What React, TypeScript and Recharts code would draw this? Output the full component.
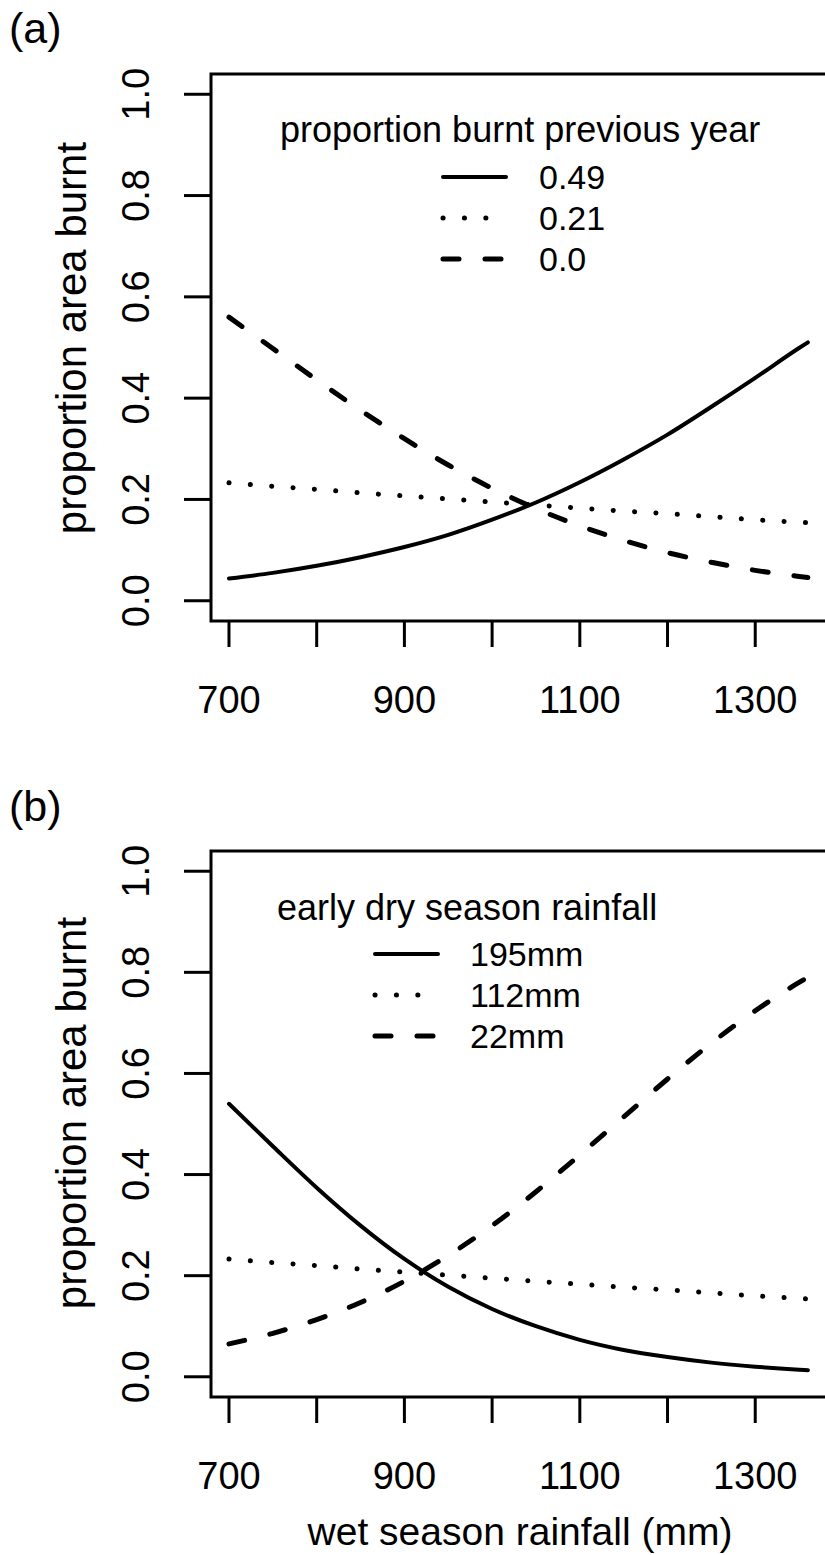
import React from 'react'
import { LineChart, Line, XAxis, YAxis, ReferenceArea, Legend } from 'recharts'

// wet season rainfall (mm) where the curves were read
const rainfall = [700, 750, 800, 850, 900, 950, 1000, 1050, 1100, 1150, 1200, 1250, 1300, 1350, 1360]

// (a) proportion burnt previous year
const prev049 = [0.044, 0.055, 0.069, 0.086, 0.106, 0.13, 0.16, 0.194, 0.234, 0.279, 0.328, 0.383, 0.44, 0.499, 0.51]
const prev021 = [0.233, 0.226, 0.22, 0.213, 0.207, 0.201, 0.195, 0.189, 0.183, 0.177, 0.172, 0.166, 0.16, 0.155, 0.154]
const prev000 = [0.56, 0.498, 0.436, 0.376, 0.32, 0.268, 0.222, 0.182, 0.148, 0.119, 0.095, 0.076, 0.06, 0.048, 0.046]

// (b) early dry season rainfall
const early195 = [0.54, 0.456, 0.374, 0.299, 0.233, 0.178, 0.134, 0.1, 0.073, 0.053, 0.039, 0.028, 0.02, 0.014, 0.013]
const early112 = [0.233, 0.226, 0.22, 0.213, 0.207, 0.201, 0.195, 0.189, 0.183, 0.177, 0.172, 0.166, 0.16, 0.155, 0.154]
const early22 = [0.065, 0.086, 0.113, 0.147, 0.189, 0.24, 0.299, 0.366, 0.439, 0.514, 0.589, 0.66, 0.724, 0.78, 0.79]

const xTicks = [700, 800, 900, 1000, 1100, 1200, 1300]
const xTickLabels = ['700', '', '900', '', '1100', '', '1300']
const yTicks = [0, 0.2, 0.4, 0.6, 0.8, 1]
const yTickLabels = ['0.0', '0.2', '0.4', '0.6', '0.8', '1.0']

const legendTitleA = 'proportion burnt previous year'
const legendLabelsA = ['0.49', '0.21', '0.0']
const legendTitleB = 'early dry season rainfall'
const legendLabelsB = ['195mm', '112mm', '22mm']

const FONT = '"Liberation Sans", Arial, Helvetica, sans-serif'
const X_DOMAIN: [number, number] = [679.5, 1395.5]
const Y_DOMAIN: [number, number] = [-0.04, 1.04]

const lineStyles = [
  { strokeWidth: 4, strokeDasharray: undefined },
  { strokeWidth: 5, strokeDasharray: '0.1 21.3' },
  { strokeWidth: 5, strokeDasharray: '16 26' },
]

const XTick = (props: any) => {
  const { x, y, payload } = props
  const i = xTicks.indexOf(payload.value)
  return (
    <text x={x} y={y + 27} textAnchor="middle" fontSize={38} fontFamily={FONT} fill="#000">
      {xTickLabels[i]}
    </text>
  )
}

const YTick = (props: any) => {
  const { x, y, payload } = props
  const i = yTicks.indexOf(payload.value)
  return (
    <text x={x} y={y} textAnchor="middle" fontSize={38} fontFamily={FONT} fill="#000"
      transform={`rotate(-90, ${x}, ${y})`}>
      {yTickLabels[i]}
    </text>
  )
}

const YTitle = ({ centerY }: { centerY: number }) => (
  <text x={86} y={centerY} textAnchor="middle" fontSize={42} fontFamily={FONT} fill="#000"
    transform={`rotate(-90, 86, ${centerY})`}>
    proportion area burnt
  </text>
)

const XTitle = ({ baseY }: { baseY: number }) => (
  <text x={520} y={baseY} textAnchor="middle" fontSize={39} fontFamily={FONT} fill="#000">
    wet season rainfall (mm)
  </text>
)

interface LegendLayout {
  title: string
  labels: string[]
  titleX: number
  titleY: number
  lineX1: number
  lineX2: number
  labelX: number
  rowsY: number[]
}

const LegendBox = ({ lg }: { lg: LegendLayout }) => (
  <svg width={825} height={320} style={{ display: 'block', overflow: 'visible' }}>
    <text x={lg.titleX} y={lg.titleY} fontSize={36} fontFamily={FONT} fill="#000">{lg.title}</text>
    {lg.labels.map((lab, i) => (
      <g key={lab}>
        <line x1={lg.lineX1} x2={lg.lineX2} y1={lg.rowsY[i]} y2={lg.rowsY[i]} stroke="#000"
          strokeWidth={lineStyles[i].strokeWidth} strokeDasharray={lineStyles[i].strokeDasharray}
          strokeLinecap="round" />
        <text x={lg.labelX} y={lg.rowsY[i] + 12} fontSize={34} fontFamily={FONT} fill="#000">{lab}</text>
      </g>
    ))}
  </svg>
)

interface PanelProps {
  top: number
  height: number
  margin: { top: number; right: number; bottom: number; left: number }
  xAxisHeight: number
  series: number[][]
  legend: LegendLayout
  yTitleY: number
  xTitleY?: number
}

function Panel({ top, height, margin, xAxisHeight, series, legend, yTitleY, xTitleY }: PanelProps) {
  const data = rainfall.map((r, i) => ({ r, s0: series[0][i], s1: series[1][i], s2: series[2][i] }))
  return (
    <div style={{ position: 'absolute', left: 0, top }}>
      <LineChart width={900} height={height} data={data} margin={margin}>
        <ReferenceArea x1={X_DOMAIN[0]} x2={X_DOMAIN[1]} y1={Y_DOMAIN[0]} y2={Y_DOMAIN[1]}
          fill="none" stroke="#000" strokeWidth={3} ifOverflow="visible" />
        <XAxis dataKey="r" type="number" domain={X_DOMAIN} allowDataOverflow ticks={xTicks}
          axisLine={false} tickLine={{ stroke: '#000', strokeWidth: 3 }} tickSize={26} tickMargin={39}
          height={xAxisHeight} tick={<XTick />} interval={0}
          label={xTitleY ? <XTitle baseY={xTitleY} /> : undefined} />
        <YAxis type="number" domain={Y_DOMAIN} allowDataOverflow ticks={yTicks} width={100}
          axisLine={false} tickLine={{ stroke: '#000', strokeWidth: 3 }} tickSize={27} tickMargin={35}
          tick={<YTick />} interval={0} label={<YTitle centerY={yTitleY} />} />
        <Legend layout="horizontal" verticalAlign="middle" align="center"
          wrapperStyle={{ left: 0, top: 0, width: 825, height: 320 }}
          content={() => <LegendBox lg={legend} />} />
        {['s0', 's1', 's2'].map((k, i) => (
          <Line key={k} dataKey={k} type="monotone" stroke="#000" strokeWidth={lineStyles[i].strokeWidth}
            strokeDasharray={lineStyles[i].strokeDasharray} strokeLinecap="round" dot={false}
            activeDot={false} isAnimationActive={false} />
        ))}
      </LineChart>
    </div>
  )
}

export default function App() {
  return (
    <div style={{ position: 'absolute', left: 0, top: 0, width: 825, height: 1555, overflow: 'hidden', background: '#fff' }}>
      <Panel top={0} height={760} margin={{ top: 74, right: 61, bottom: 39, left: 111 }} xAxisHeight={100}
        series={[prev049, prev021, prev000]} yTitleY={338}
        legend={{ title: legendTitleA, labels: legendLabelsA, titleX: 280, titleY: 142, lineX1: 443, lineX2: 506, labelX: 539, rowsY: [177, 218, 259] }} />
      <Panel top={780} height={775} margin={{ top: 71, right: 61, bottom: 38, left: 111 }} xAxisHeight={120}
        series={[early195, early112, early22]} yTitleY={333} xTitleY={765}
        legend={{ title: legendTitleB, labels: legendLabelsB, titleX: 277, titleY: 140, lineX1: 375, lineX2: 438, labelX: 470, rowsY: [174, 215, 256] }} />
      <svg width={825} height={1555} style={{ position: 'absolute', left: 0, top: 0, pointerEvents: 'none' }}>
        <text x={9} y={43} fontSize={43} fontFamily={FONT} fill="#000">(a)</text>
        <text x={9} y={821} fontSize={43} fontFamily={FONT} fill="#000">(b)</text>
      </svg>
    </div>
  )
}
